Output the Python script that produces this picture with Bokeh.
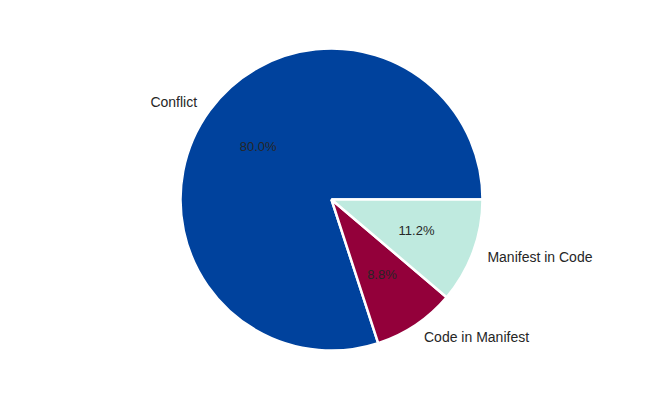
import numpy as np
from bokeh.plotting import figure
from bokeh.models import ColumnDataSource
from bokeh.core.properties import value
from bokeh.embed import file_html
from bokeh.resources import INLINE

categories = ["Conflict", "Code in Manifest", "Manifest in Code"]
shares = [80.0, 8.8, 11.2]
colors = ["#00429d", "#93003a", "#bfeadf"]

W, H = 648, 383
cx, cy, R = 331, 184, 151

vals = np.array(shares, dtype=float)
frac = vals / vals.sum()
ends = np.cumsum(frac) * 2 * np.pi
starts = np.concatenate([[0.0], ends[:-1]])
mids = (starts + ends) / 2

src = ColumnDataSource(dict(start=starts, end=ends, color=colors))

p = figure(width=W, height=H, x_range=(0, W), y_range=(0, H),
           output_backend="svg", toolbar_location=None, min_border=0)
p.axis.visible = False
p.grid.visible = False
p.outline_line_color = None
p.background_fill_color = "white"

p.wedge(x=cx, y=cy, radius=R, start_angle="start", end_angle="end",
        fill_color="color", line_color="white", line_width=2.5, source=src)

lx = cx + 1.1 * R * np.cos(mids)
ly = cy + 1.1 * R * np.sin(mids)
align = ["right" if c < 0 else "left" for c in np.cos(mids)]
lab = ColumnDataSource(dict(x=lx, y=ly, t=categories, a=align))
p.text(x="x", y="y", text="t", text_align="a", text_baseline="middle",
       text_font=value("Liberation Sans"), text_font_size="14px",
       text_color="#262626", source=lab)

px = cx + 0.6 * R * np.cos(mids)
py = cy + 0.6 * R * np.sin(mids)
pct = ["%.1f%%" % v for v in frac * 100]
ps = ColumnDataSource(dict(x=px, y=py, t=pct))
p.text(x="x", y="y", text="t", text_align="center", text_baseline="middle",
       text_font=value("Liberation Sans"), text_font_size="13px",
       text_color="#262626", source=ps)

open("out.html", "w").write(file_html(p, INLINE))
